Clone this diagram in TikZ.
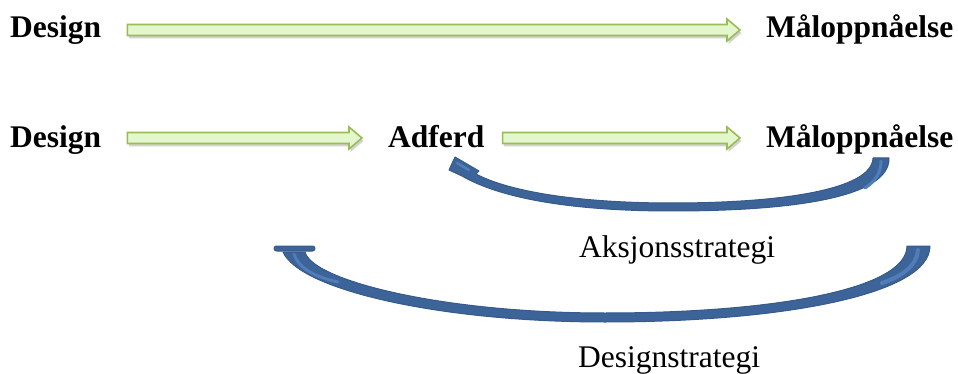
\documentclass[tikz,border=0pt]{standalone}
\usepackage{fontspec}
\setmainfont{Liberation Serif}
\usetikzlibrary{calc,shadows}
\definecolor{gfill}{HTML}{E3F6CC}
\definecolor{gline}{HTML}{9BBB59}
\definecolor{bfill}{HTML}{3D6498}
\definecolor{bline}{HTML}{365A8A}
\definecolor{blight}{HTML}{4E7DB9}
\begin{document}
\begin{tikzpicture}[x=1pt,y=-1pt,
  lbl/.style={inner sep=0pt, anchor=base west, font=\fontsize{31.5}{36}\selectfont},
  blbl/.style={lbl, font=\fontsize{31.5}{36}\selectfont\bfseries},
  garrow/.style={fill=gfill, draw=gline, line width=1.6pt, line join=miter,
     drop shadow={opacity=0.25, shadow xshift=1.5pt, shadow yshift=-3pt, fill=black!70},
     to path={let \p1=(\tikztostart), \p2=(\tikztotarget) in
       (\x1,\y1+5.5pt) -- (\x2-13pt,\y1+5.5pt) -- (\x2-13pt,\y1+11pt) -- (\x2,\y1)
       -- (\x2-13pt,\y1-11pt) -- (\x2-13pt,\y1-5.5pt) -- (\x1,\y1-5.5pt) -- cycle}},
  barrow/.style={fill=bfill, draw=bline, line width=1pt, line join=round},
  bstripe/.style={draw=blight, line cap=round}]
\useasboundingbox (0,0) rectangle (958,374);
% labels
\node[blbl] (d1) at (10,38) {Design};
\node[blbl] (m1) at (766,38) {Måloppnåelse};
\node[blbl] (d2) at (10,148) {Design};
\node[blbl] (a2) at (388,148) {Adferd};
\node[blbl] (m2) at (766,148) {Måloppnåelse};
\node[lbl] (aks) at (579,257) {Aksjonsstrategi};
\node[lbl] (dst) at (578,367) {Designstrategi};
% green arrows
\coordinate (s1) at ($(d1.base east)+(26,-8)$);
\coordinate (e1) at ($(m1.base west)+(-26,-8)$);
\coordinate (s2) at ($(d2.base east)+(26,-10)$);
\coordinate (e2) at ($(a2.base west)+(-26,-10)$);
\coordinate (s3) at ($(a2.base east)+(18,-10)$);
\coordinate (e3) at ($(m2.base west)+(-26,-10)$);
\draw[garrow] (s1) to (e1);
\draw[garrow] (s2) to (e2);
\draw[garrow] (s3) to (e3);
% curved arrow: Aksjonsstrategi
\path[barrow] (889,158) .. controls (890,198) and (790,211) .. (672,211)
  .. controls (570,211) and (500,198) .. (462,176)
  -- (449,170) -- (455,157) -- (479,171) -- (476,174)
  .. controls (510,192) and (580,203) .. (672,203)
  .. controls (780,203) and (872,190) .. (873,158) -- cycle;
\draw[bstripe, line width=2.5pt] (457,163) -- (469,170);
\draw[bstripe, line width=3pt] (881,161) .. controls (881,172) and (876,181) .. (865,188);
% curved arrow: Designstrategi
\path[barrow] (930,246) .. controls (930,295) and (780,322) .. (605,322)
  .. controls (440,322) and (300,290) .. (283,252)
  -- (305,252) .. controls (312,280) and (440,313) .. (605,313)
  .. controls (770,313) and (907,290) .. (907,246) -- cycle;
\path[barrow, rounded corners=2.5pt] (274,246) rectangle (315,251);
\draw[bstripe, line width=3pt] (294,254) .. controls (298,268) and (315,277) .. (338,282);
\draw[bstripe, line width=4pt] (918,250) .. controls (917,265) and (903,276) .. (882,283);
\end{tikzpicture}
\end{document}
